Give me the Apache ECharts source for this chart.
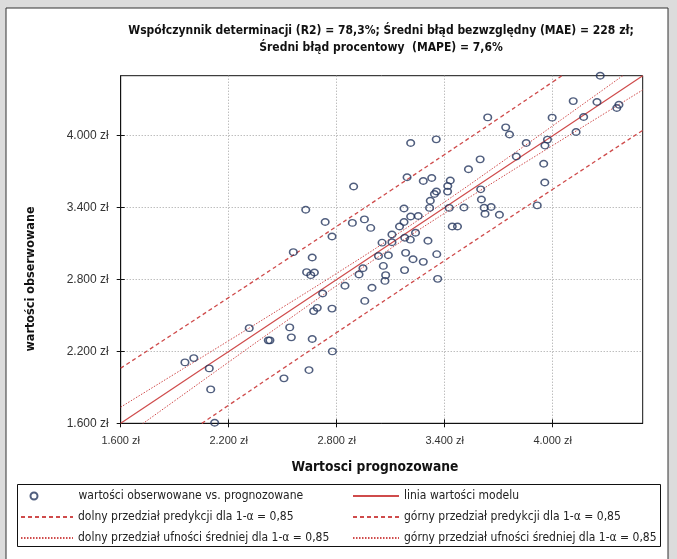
<!DOCTYPE html>
<html>
<head>
<meta charset="utf-8">
<script src="https://cdn.jsdelivr.net/npm/echarts@6/dist/echarts.min.js"></script>
<style>
  html, body { margin: 0; padding: 0; background: #dcdcdc; }
  #chart { width: 677px; height: 559px; }
</style>
</head>
<body>
<div id="chart"></div>
<script>
// wartości prognozowane (oś X) i obserwowane (oś Y)
const predicted = [1957, 2006, 2092, 2100, 2122, 2314, 2420, 2429, 2507, 2539, 2548, 2559, 2633, 2646, 2656, 2664, 2664, 2672, 2676, 2692,
  2722, 2774, 2776, 2846, 2924, 2946, 2956, 2996, 2628, 2736, 2774, 2887, 2894, 2954, 2989, 3052, 3107, 3107, 3149, 3174,
  3178, 3209, 3238, 3307, 3032, 3087, 3183, 3224, 3281, 3356, 3059, 3072, 3068, 3177, 3361, 3174, 3211, 3253, 3191, 3281,
  3328, 3431, 3417, 3416, 3354, 3343, 3320, 3316, 3425, 3442, 3471, 3211, 3353, 3532, 3597, 3600, 3604, 3507, 3619, 3658,
  3624, 3704, 3639, 3739, 3760, 3798, 3853, 3914, 3950, 3956, 3957, 3971, 3997, 4114, 4130, 4172, 4246, 4264, 4356, 4368];
const observed = [2108, 2144, 2058, 1883, 1605, 2394, 2292, 2292, 1975, 2400, 2317, 3028, 2861, 2044, 2836, 2983, 2303, 2536, 2858, 2563,
  2683, 2557, 2200, 2747, 2842, 2894, 2621, 2731, 3382, 3280, 3159, 3272, 3576, 3301, 3230, 3107, 3175, 3111, 3242, 3280,
  3148, 3132, 3190, 3123, 2996, 3002, 3022, 2969, 2947, 3011, 2913, 2836, 2788, 2878, 2805, 3392, 3325, 3330, 3653, 3622,
  3647, 3626, 3580, 3533, 3534, 3513, 3457, 3397, 3397, 3242, 3242, 3938, 3969, 3719, 3802, 3552, 3467, 3401, 3398, 3405,
  3347, 3340, 4152, 4069, 4009, 3826, 3938, 3418, 3765, 3609, 3917, 3967, 4150, 4288, 4030, 4155, 4280, 4500, 4230, 4258];

// linia modelu i przedziały
const bandX = [1600, 1900, 2200, 2500, 2800, 3100, 3400, 3700, 4000, 4300, 4500];
const modelLine = [1600, 1900, 2200, 2500, 2800, 3100, 3400, 3700, 4000, 4300, 4500];
const confUpper = [1735, 2012, 2289, 2568, 2851, 3142, 3447, 3762, 4082, 4404, 4619];
const confLower = [1465, 1788, 2111, 2432, 2749, 3058, 3353, 3638, 3918, 4196, 4381];
const predUpper = [2060, 2354, 2649, 2945, 3243, 3542, 3843, 4144, 4448, 4752, 4956];
const predLower = [1140, 1446, 1751, 2055, 2357, 2658, 2958, 3256, 3552, 3848, 4044];

const axisTicks = [1600, 2200, 2800, 3400, 4000];

const names = {
  scatter: "wartości obserwowane vs. prognozowane",
  model: "linia wartości modelu",
  predLow: "dolny przedział predykcji dla 1-α = 0,85",
  predHigh: "górny przedział predykcji dla 1-α = 0,85",
  confLow: "dolny przedział ufności średniej dla 1-α = 0,85",
  confHigh: "górny przedział ufności średniej dla 1-α = 0,85",
};

const RED = "#cf4b4b";
const NAVY = "#24365e";
const narrow = "'Liberation Sans Narrow', 'DejaVu Sans Condensed', sans-serif";
const arial = "'Liberation Sans', Arial, sans-serif";
const fmt = (v) => (axisTicks.includes(v) ? String(v).replace(/\B(?=(\d{3})+(?!\d))/g, ".") + " zł" : "");
const pairs = (xs, ys) => xs.map((x, i) => [x, ys[i]]);

const chart = echarts.init(document.getElementById("chart"));

const lineSeries = (name, data, type, width) => ({
  name,
  type: "line",
  data: pairs(bandX, data),
  symbol: "none",
  smooth: true,
  clip: true,
  lineStyle: { color: RED, width, type },
  itemStyle: { color: RED },
  z: 3,
});

const axisBase = {
  type: "value",
  min: 1600,
  max: 4500,
  interval: 600,
};

const legendText = { fontFamily: narrow, fontSize: 12, color: "#222", lineHeight: 14 };

chart.setOption({
  backgroundColor: "#dcdcdc",
  animation: false,
  graphic: [
    { type: "rect", z: -10, shape: { x: 6, y: 8, width: 662, height: 560 },
      style: { fill: "#fff", stroke: "#333", lineWidth: 1 } },
    { type: "rect", z: 10, shape: { x: 17.5, y: 484.5, width: 643, height: 62 },
      style: { fill: "none", stroke: "#111", lineWidth: 1 } },
    { type: "text", z: 10, x: 31, y: 279, rotation: Math.PI / 2,
      style: { text: "wartości obserwowane", fill: "#111", font: "bold 12.5px " + narrow,
        align: "center", verticalAlign: "middle" } },
    { type: "text", z: 10, x: 375, y: 467,
      style: { text: "Wartosci prognozowane", fill: "#111", font: "bold 13.7px " + narrow,
        align: "center", verticalAlign: "middle" } },
  ],
  title: {
    text: "Współczynnik determinacji (R2) = 78,3%; Średni błąd bezwzględny (MAE) = 228 zł;\nŚredni błąd procentowy  (MAPE) = 7,6%",
    left: 381,
    top: 22,
    padding: 0,
    textAlign: "center",
    textStyle: { fontFamily: narrow, fontSize: 12, fontWeight: "bold", color: "#111", lineHeight: 17 },
  },
  grid: {
    left: 120.7,
    right: 34.3,
    top: 75.7,
    bottom: 135.7,
    show: true,
    backgroundColor: "#fff",
    borderColor: "#111",
    borderWidth: 1,
  },
  legend: [
    {
      data: [names.scatter],
      left: 29.5, top: 489, itemWidth: 79, itemHeight: 7, padding: 0,
      selectedMode: false,
      textStyle: legendText,
    },
    {
      data: [names.predLow, names.confLow],
      orient: "vertical",
      left: 20, top: 510, itemWidth: 52, itemHeight: 14, itemGap: 7, padding: 0,
      selectedMode: false,
      itemStyle: { opacity: 0 },
      textStyle: legendText,
    },
    {
      data: [names.model, names.predHigh, names.confHigh],
      orient: "vertical",
      left: 352, top: 489, itemWidth: 46, itemHeight: 14, itemGap: 7, padding: 0,
      selectedMode: false,
      itemStyle: { opacity: 0 },
      textStyle: legendText,
    },
  ],
  xAxis: [
    {
      ...axisBase,
      axisLine: { show: true, lineStyle: { color: "#111" } },
      axisTick: { show: true, length: 4, customValues: axisTicks, lineStyle: { color: "#111" } },
      axisLabel: { formatter: fmt, margin: 12, fontFamily: arial, fontSize: 11, color: "#333" },
      splitLine: { show: true, lineStyle: { color: "#a0a0a0", type: [1, 2] } },
    },
    {
      ...axisBase,
      position: "bottom",
      axisLine: { show: false },
      axisTick: { show: true, inside: true, length: 4, customValues: axisTicks, lineStyle: { color: "#111" } },
      axisLabel: { show: false },
      splitLine: { show: false },
    },
  ],
  yAxis: [
    {
      ...axisBase,
      axisLine: { show: true, lineStyle: { color: "#111" } },
      axisTick: { show: true, length: 4, customValues: axisTicks, lineStyle: { color: "#111" } },
      axisLabel: { formatter: fmt, margin: 12, fontFamily: arial, fontSize: 12, color: "#333" },
      splitLine: { show: true, lineStyle: { color: "#a0a0a0", type: [1, 2] } },
    },
    {
      ...axisBase,
      position: "left",
      axisLine: { show: false },
      axisTick: { show: true, inside: true, length: 4, customValues: axisTicks, lineStyle: { color: "#111" } },
      axisLabel: { show: false },
      splitLine: { show: false },
    },
  ],
  series: [
    {
      name: names.scatter,
      type: "scatter",
      data: pairs(predicted, observed),
      symbol: "circle",
      symbolSize: [7.5, 6.5],
      itemStyle: { color: "rgba(0,0,0,0)", borderColor: NAVY, borderWidth: 1.5 },
      z: 4,
    },
    lineSeries(names.model, modelLine, "solid", 1.2),
    lineSeries(names.predLow, predLower, [4, 3], 1.3),
    lineSeries(names.predHigh, predUpper, [4, 3], 1.3),
    lineSeries(names.confLow, confLower, [1.5, 1.5], 1),
    lineSeries(names.confHigh, confUpper, [1.5, 1.5], 1),
  ],
});
</script>
</body>
</html>
